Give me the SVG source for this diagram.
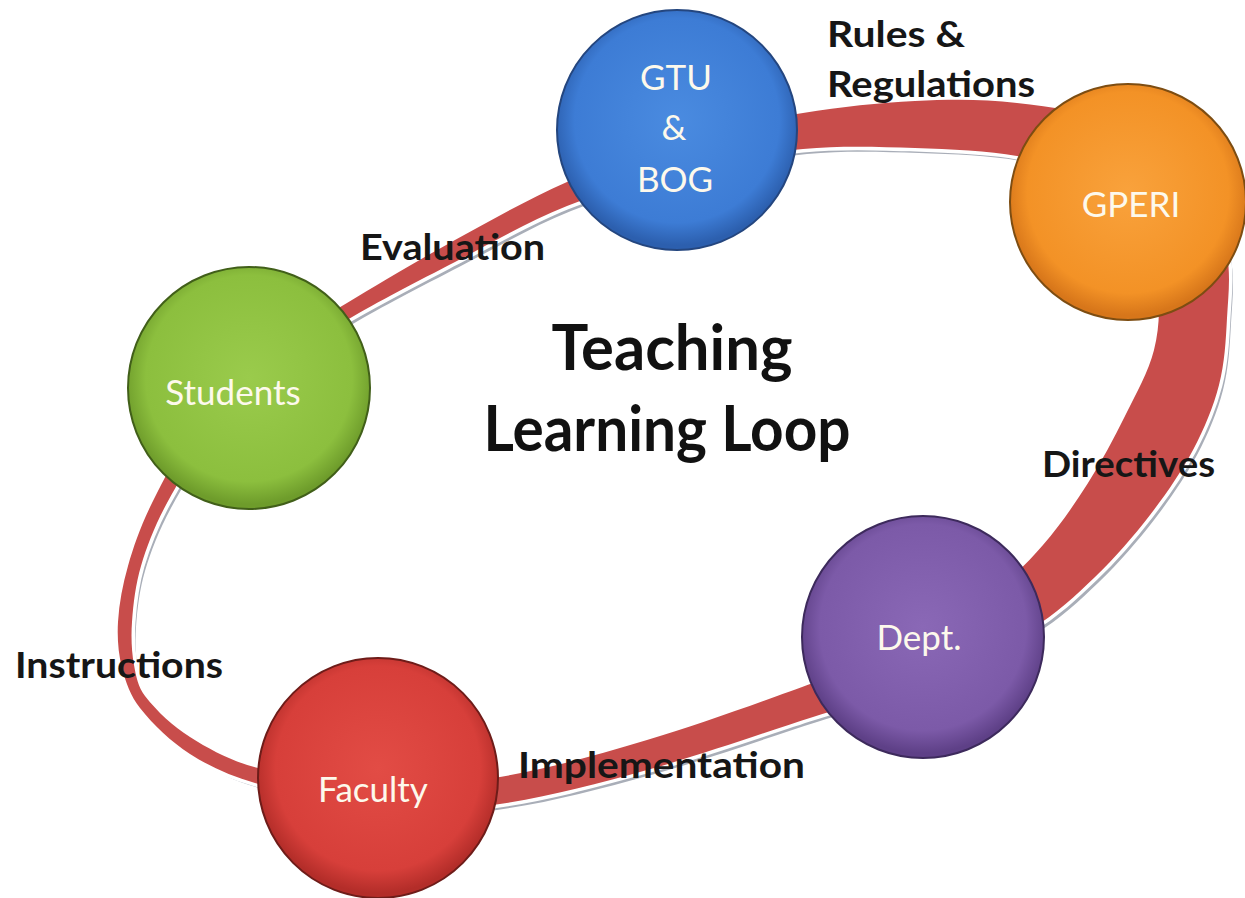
<svg xmlns="http://www.w3.org/2000/svg" width="1245" height="898" viewBox="0 0 1245 898">
  <style>
    .label { font-family: Lato, "Open Sans", "Liberation Sans", sans-serif; font-weight: 700; font-size: 37px; fill: #161616; }
    .title { font-family: Lato, "Open Sans", "Liberation Sans", sans-serif; font-weight: 700; font-size: 63px; fill: #111111; text-anchor: middle; }
    .node-text { font-family: Lato, "Open Sans", "Liberation Sans", sans-serif; font-weight: 400; font-size: 35px; fill: #fdf9ec; text-anchor: middle; }
    .ring { fill: #c84d4b; fill-rule: evenodd; stroke: #ffffff; stroke-width: 7; paint-order: stroke; }
    .ring-shadow { fill: #a9aeb8; fill-rule: evenodd; }
    .node-disc { stroke-width: 2; }
  </style>
  <defs>
    <radialGradient id="gBlue" cx="50%" cy="46%" r="52%">
      <stop offset="0" stop-color="#4a8be0"/>
      <stop offset="0.82" stop-color="#3d7cd5"/>
      <stop offset="1" stop-color="#2c5fae"/>
    </radialGradient>
    <radialGradient id="gOrange" cx="50%" cy="46%" r="52%">
      <stop offset="0" stop-color="#f9a23c"/>
      <stop offset="0.82" stop-color="#f39226"/>
      <stop offset="1" stop-color="#d7761a"/>
    </radialGradient>
    <radialGradient id="gGreen" cx="50%" cy="46%" r="52%">
      <stop offset="0" stop-color="#9acb4c"/>
      <stop offset="0.82" stop-color="#8cbf3e"/>
      <stop offset="1" stop-color="#6e9c2b"/>
    </radialGradient>
    <radialGradient id="gPurple" cx="50%" cy="46%" r="52%">
      <stop offset="0" stop-color="#8a68b6"/>
      <stop offset="0.82" stop-color="#7c5aa8"/>
      <stop offset="1" stop-color="#5e4087"/>
    </radialGradient>
    <radialGradient id="gRed" cx="50%" cy="46%" r="52%">
      <stop offset="0" stop-color="#e24c45"/>
      <stop offset="0.82" stop-color="#d73f3a"/>
      <stop offset="1" stop-color="#b32d29"/>
    </radialGradient>
    <!-- loop band in perspective: outer edge and inner edge as smooth closed curves,
         the band is thick on the right and thin on the left -->
    <path id="loopBand" d="M 118 622
      C 119.1 603 122.8 584.3 128 566
      C 133.67 546.17 140.67 526 152 503
      C 163.33 480 177.67 452.5 196 428
      C 214.33 403.5 236.83 376.83 262 356
      C 287.17 335.17 314.83 322.33 347 303
      C 379.17 283.67 418.33 260.17 455 240
      C 491.67 219.83 528.67 199 567 182
      C 605.33 165 645.67 149.5 685 138
      C 724.33 126.5 764.67 119.17 803 113
      C 841.33 106.83 879.33 102.67 915 101
      C 950.67 99.33 982.83 99 1017 103
      C 1051.17 107 1090.33 112.17 1120 125
      C 1149.67 137.83 1177.33 159.17 1195 180
      C 1212.67 200.83 1220.67 227 1226 250
      C 1231.33 273 1228.17 295.5 1227 318
      C 1225.83 340.5 1224.67 363 1219 385
      C 1213.33 407 1204.5 428.33 1193 450
      C 1181.5 471.67 1166.33 493.83 1150 515
      C 1133.67 536.17 1115 557.83 1095 577
      C 1075 596.17 1057.5 612.83 1030 630
      C 1002.5 647.17 966.17 665.5 930 680
      C 893.83 694.5 860.17 702 813 717
      C 765.83 732 700.33 755.33 647 770
      C 593.67 784.67 545.1 797.7 493 805
      C 454.1 810.4 414.1 811.6 375 808
      C 334.3 804.2 294.3 794.5 255 783
      C 232.2 776.4 209.9 766.9 190 754
      C 171.1 741.7 154 725.7 140 708
      C 130.9 696.5 125.6 682.1 122 668
      C 118.2 653.1 117.1 637.4 118 622 Z
      M 132 622
      C 133.3 603.1 135.7 584.1 141 566
      C 146.83 546.17 155 525.33 167 503
      C 179 480.67 194.5 454.67 213 432
      C 231.5 409.33 255.67 385.67 278 367
      C 300.33 348.33 317.5 337.5 347 320
      C 376.5 302.5 418.33 281 455 262
      C 491.67 243 528.67 221.33 567 206
      C 605.33 190.67 645.67 179.5 685 170
      C 724.33 160.5 764.67 152.67 803 149
      C 841.33 145.33 879.33 146.83 915 148
      C 950.67 149.17 988.67 150.67 1017 156
      C 1045.33 161.33 1065.33 167.67 1085 180
      C 1104.67 192.33 1123 212 1135 230
      C 1147 248 1153.83 268 1157 288
      C 1160.17 308 1159.33 328.67 1154 350
      C 1148.67 371.33 1136 393.83 1125 416
      C 1114 438.17 1101.67 461.5 1088 483
      C 1074.33 504.5 1059.33 526.33 1043 545
      C 1026.67 563.67 1012.17 578.33 990 595
      C 967.83 611.67 939.5 630.33 910 645
      C 880.5 659.67 856.83 667.17 813 683
      C 769.17 698.83 700.33 724.17 647 740
      C 593.67 755.83 545.3 769.9 493 778
      C 454.1 784 414.3 783.7 375 782
      C 335.7 780.3 296.2 777.3 258 768
      C 233.8 762.1 211 750.4 190 737
      C 172.9 726.1 157.5 712 145 696
      C 138.2 687.3 135.9 675.8 134 665
      C 131.5 650.9 131 636.3 132 622 Z"/>
  </defs>

  <rect x="0" y="0" width="1245" height="898" fill="#ffffff"/>

  <!-- connectors: the loop band joining all nodes -->
  <g id="connectors">
    <use href="#loopBand" class="ring-shadow" transform="translate(4,5)"/>
    <use href="#loopBand" class="ring"/>
  </g>

  <!-- edge labels -->
  <g id="edge-labels">
    <text class="label" x="827" y="47" textLength="138" lengthAdjust="spacingAndGlyphs">Rules &amp;</text>
    <text class="label" x="827" y="97" textLength="208" lengthAdjust="spacingAndGlyphs">Regulations</text>
    <text class="label" x="360" y="260" textLength="185" lengthAdjust="spacingAndGlyphs">Evaluation</text>
    <text class="label" x="1042" y="477" textLength="173" lengthAdjust="spacingAndGlyphs">Directives</text>
    <text class="label" x="518" y="778" textLength="287" lengthAdjust="spacingAndGlyphs">Implementation</text>
    <text class="label" x="15" y="678" textLength="208" lengthAdjust="spacingAndGlyphs">Instructions</text>
  </g>

  <g id="title">
    <text class="title" x="672" y="370" textLength="241" lengthAdjust="spacingAndGlyphs">Teaching</text>
    <text class="title" x="667" y="451" textLength="367" lengthAdjust="spacingAndGlyphs">Learning Loop</text>
  </g>

  <g id="node-gtu-bog">
    <circle class="node-disc" cx="677" cy="130" r="120" fill="url(#gBlue)" stroke="#24467f"/>
    <text class="node-text" x="676" y="90">GTU</text>
    <text class="node-text" x="674" y="140">&amp;</text>
    <text class="node-text" x="675" y="192">BOG</text>
  </g>

  <g id="node-gperi">
    <circle class="node-disc" cx="1128" cy="202" r="118" fill="url(#gOrange)" stroke="#7d4d12"/>
    <text class="node-text" x="1131" y="217">GPERI</text>
  </g>

  <g id="node-dept">
    <circle class="node-disc" cx="923" cy="637" r="121" fill="url(#gPurple)" stroke="#3d2a5c"/>
    <text class="node-text" x="919" y="650">Dept.</text>
  </g>

  <g id="node-faculty">
    <circle class="node-disc" cx="378" cy="778" r="120" fill="url(#gRed)" stroke="#6e1c19"/>
    <text class="node-text" x="373" y="802">Faculty</text>
  </g>

  <g id="node-students">
    <circle class="node-disc" cx="249" cy="388" r="121" fill="url(#gGreen)" stroke="#415f19"/>
    <text class="node-text" x="233" y="405">Students</text>
  </g>
</svg>
